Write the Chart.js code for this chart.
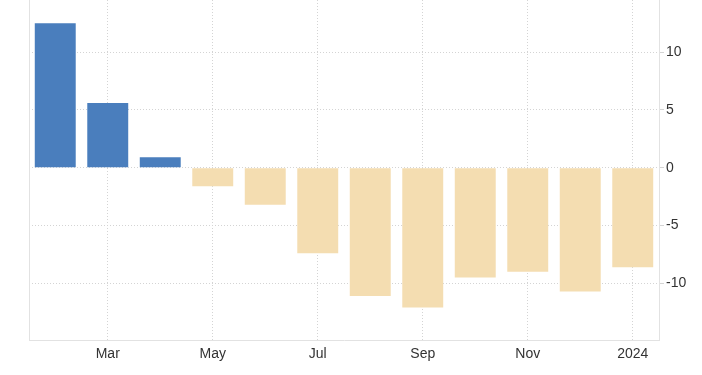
<!DOCTYPE html>
<html>
<head>
<meta charset="utf-8">
<script src="https://cdn.jsdelivr.net/npm/chart.js@4.4.4/dist/chart.umd.min.js"></script>
<style>
  html, body { margin: 0; padding: 0; background: #fff; }
  #wrap { width: 702px; height: 375px; position: relative; }
</style>
</head>
<body>
<div id="wrap"><canvas id="chart"></canvas></div>
<script>
// ─── Data ────────────────────────────────────────────────────────────────────

const CATEGORIES = ['Feb', 'Mar', 'Apr', 'May', 'Jun', 'Jul', 'Aug', 'Sep', 'Oct', 'Nov', 'Dec', '2024'];
const VALUES = [12.5, 5.6, 0.9, -1.6, -3.2, -7.4, -11.1, -12.1, -9.5, -9.0, -10.7, -8.6];
const Y_TICKS = [-10, -5, 0, 5, 10];

const POS_COLOR = '#4a7ebd';
const NEG_COLOR = '#f4ddb1';
const GRID = '#d4d4d4';
const FRAME = '#e2e2e2';
const FONT = { family: "'Liberation Sans', Arial, sans-serif", size: 14 };

// left frame line (reference draws a box on left, right, bottom)
const leftFrame = {
    id: 'leftFrame',
    afterDraw(chart) {
        const { ctx, chartArea: { left, top, bottom } } = chart;
        ctx.save();
        ctx.strokeStyle = FRAME;
        ctx.lineWidth = 1;
        ctx.beginPath();
        ctx.moveTo(left + 0.5, top);
        ctx.lineTo(left + 0.5, bottom);
        ctx.stroke();
        ctx.restore();
    }
};

new Chart(document.getElementById('chart'), {
    type: 'bar',
    data: {
        labels: CATEGORIES,
        datasets: [{
            data: VALUES,
            backgroundColor: c => (c.raw >= 0 ? POS_COLOR : NEG_COLOR),
            borderWidth: 0,
            barPercentage: 0.78,
            categoryPercentage: 1.0
        }]
    },
    options: {
        responsive: true,
        maintainAspectRatio: false,
        animation: false,
        layout: { padding: { left: 29, top: 0, right: 0, bottom: 0 } },
        plugins: { legend: { display: false }, tooltip: { enabled: false } },
        scales: {
            x: {
                offset: true,
                grid: {
                    offset: false,
                    color: c => (c.index % 2 === 1 ? GRID : 'transparent'),
                    lineWidth: 1,
                    drawTicks: false
                },
                border: { display: true, color: FRAME, dash: [1, 2] },
                ticks: {
                    autoSkip: false,
                    maxRotation: 0,
                    padding: 6,
                    color: '#333',
                    font: FONT,
                    callback: (v, i) => (i % 2 === 1 ? CATEGORIES[i] : '')
                },
                afterFit: s => { s.height = 35; }
            },
            y: {
                position: 'right',
                min: -14.9,
                max: 14.5,
                afterBuildTicks: s => { s.ticks = Y_TICKS.map(v => ({ value: v })); },
                grid: {
                    color: GRID,
                    tickLength: 5,
                    tickColor: GRID
                },
                border: { display: true, color: FRAME, dash: [1, 2] },
                ticks: {
                    padding: 2,
                    color: '#333',
                    font: FONT
                },
                afterFit: s => { s.width = 43; s.paddingTop = 0; s.paddingBottom = 0; }
            }
        }
    },
    plugins: [leftFrame]
});
</script>
</body>
</html>
